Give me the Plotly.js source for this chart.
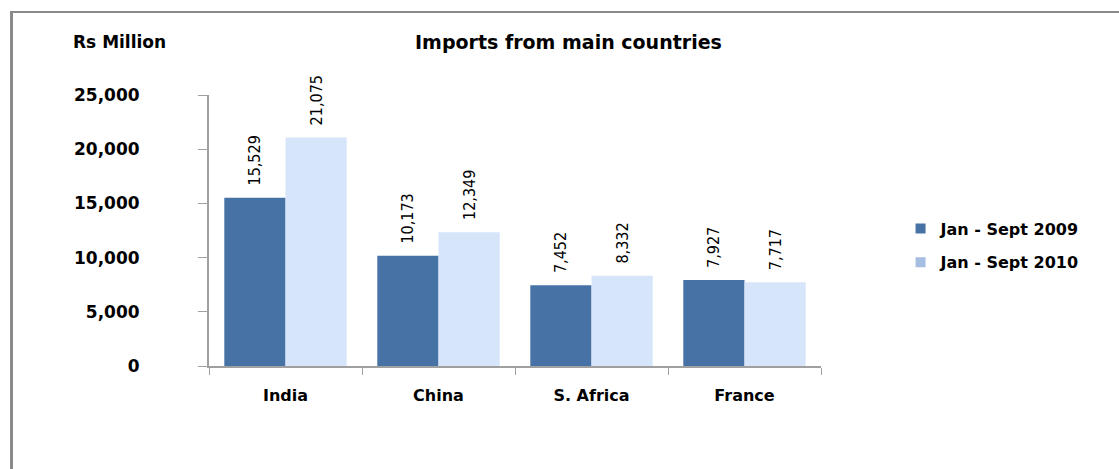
<!DOCTYPE html>
<html>
<head>
<meta charset="utf-8">
<script src="https://cdn.plot.ly/plotly-3.0.1.min.js"></script>
<style>
  body { margin: 0; background: #fff; }
  #frame { position: absolute; left: 10px; top: 11px; width: 1300px; height: 600px;
           border-left: 3px solid #8a8a8a; border-top: 2px solid #8a8a8a; }
  #plot { position: absolute; left: 0; top: 0; width: 1119px; height: 469px; }
</style>
</head>
<body>
<div id="frame"></div>
<div id="plot"></div>
<script>
// Imports from main countries, Rs Million
var countries = ['India', 'China', 'S. Africa', 'France'];
var imports2009 = [15529, 10173, 7452, 7927];
var imports2010 = [21075, 12349, 8332, 7717];
var seriesNames = ['Jan - Sept 2009', 'Jan - Sept 2010'];
var yTicks = [0, 5000, 10000, 15000, 20000, 25000];
var yTickText = ['0', '5,000', '10,000', '15,000', '20,000', '25,000'];

var barColors = ['#4672A6', '#D6E5FA'];
var legendColors = ['#4672A6', '#A6BDE2'];

var labelFont = { family: 'Liberation Sans Narrow, DejaVu Sans Condensed, DejaVu Sans, sans-serif',
                  size: 16, color: '#000', stretch: 'condensed' };
var boldFont = { family: 'DejaVu Sans, sans-serif', size: 16, color: '#000', weight: 'bold' };

function barTrace(values, i) {
    return {
        x: countries,
        y: values,
        type: 'bar',
        name: seriesNames[i],
        showlegend: false,
        marker: { color: barColors[i], line: { width: 0 } },
        texttemplate: '\u00a0\u00a0%{y:,}',
        textposition: 'outside',
        textangle: -90,
        constraintext: 'none',
        cliponaxis: false,
        textfont: labelFont,
        hoverinfo: 'skip'
    };
}

// legend-only markers so the 2010 swatch can use the darker legend shade
function legendTrace(i) {
    return {
        x: [countries[0]],
        y: [null],
        type: 'scatter',
        mode: 'markers',
        name: seriesNames[i],
        legendgroup: 'g' + i,
        marker: { color: legendColors[i], symbol: 'square', size: 10 },
        hoverinfo: 'skip'
    };
}

var data = [barTrace(imports2009, 0), barTrace(imports2010, 1), legendTrace(0), legendTrace(1)];

var layout = {
    width: 1119,
    height: 469,
    margin: { l: 209, r: 298, t: 95, b: 103 },
    paper_bgcolor: 'rgba(0,0,0,0)',
    plot_bgcolor: 'rgba(0,0,0,0)',
    barmode: 'group',
    bargap: 0.2,
    bargroupgap: 0,
    showlegend: true,
    title: {
        text: 'Imports from main countries',
        font: { family: 'DejaVu Sans, sans-serif', size: 19, color: '#000', weight: 'bold' },
        xref: 'container', x: 0.508, xanchor: 'center',
        yref: 'container', y: 0.91, yanchor: 'middle'
    },
    xaxis: {
        type: 'category',
        showline: true,
        linecolor: '#a0a0a0',
        linewidth: 2,
        ticks: 'outside',
        tickson: 'boundaries',
        ticklen: 7,
        tickcolor: '#a0a0a0',
        tickwidth: 1,
        tickfont: boldFont,
        ticklabelstandoff: 14,
        showgrid: false,
        zeroline: false
    },
    yaxis: {
        range: [0, 25000],
        tickvals: yTicks,
        ticktext: yTickText,
        showline: true,
        linecolor: '#a0a0a0',
        linewidth: 2,
        ticks: 'outside',
        ticklen: 9,
        tickcolor: '#a0a0a0',
        tickwidth: 1,
        tickfont: { family: 'DejaVu Sans, sans-serif', size: 17, color: '#000', weight: 'bold' },
        ticklabelstandoff: 55,
        showgrid: false,
        zeroline: false
    },
    legend: {
        x: 1.13, xanchor: 'left',
        y: 0.57, yanchor: 'top',
        font: boldFont,
        itemwidth: 30,
        tracegroupgap: 10,
        bgcolor: 'rgba(0,0,0,0)'
    },
    annotations: [{
        text: 'Rs Million',
        xref: 'paper', yref: 'paper',
        x: -0.226, y: 1.195,
        xanchor: 'left', yanchor: 'middle',
        showarrow: false,
        font: { family: 'DejaVu Sans, sans-serif', size: 17, color: '#000', weight: 'bold' }
    }]
};

Plotly.newPlot('plot', data, layout, { displayModeBar: false, staticPlot: true });
</script>
</body>
</html>
